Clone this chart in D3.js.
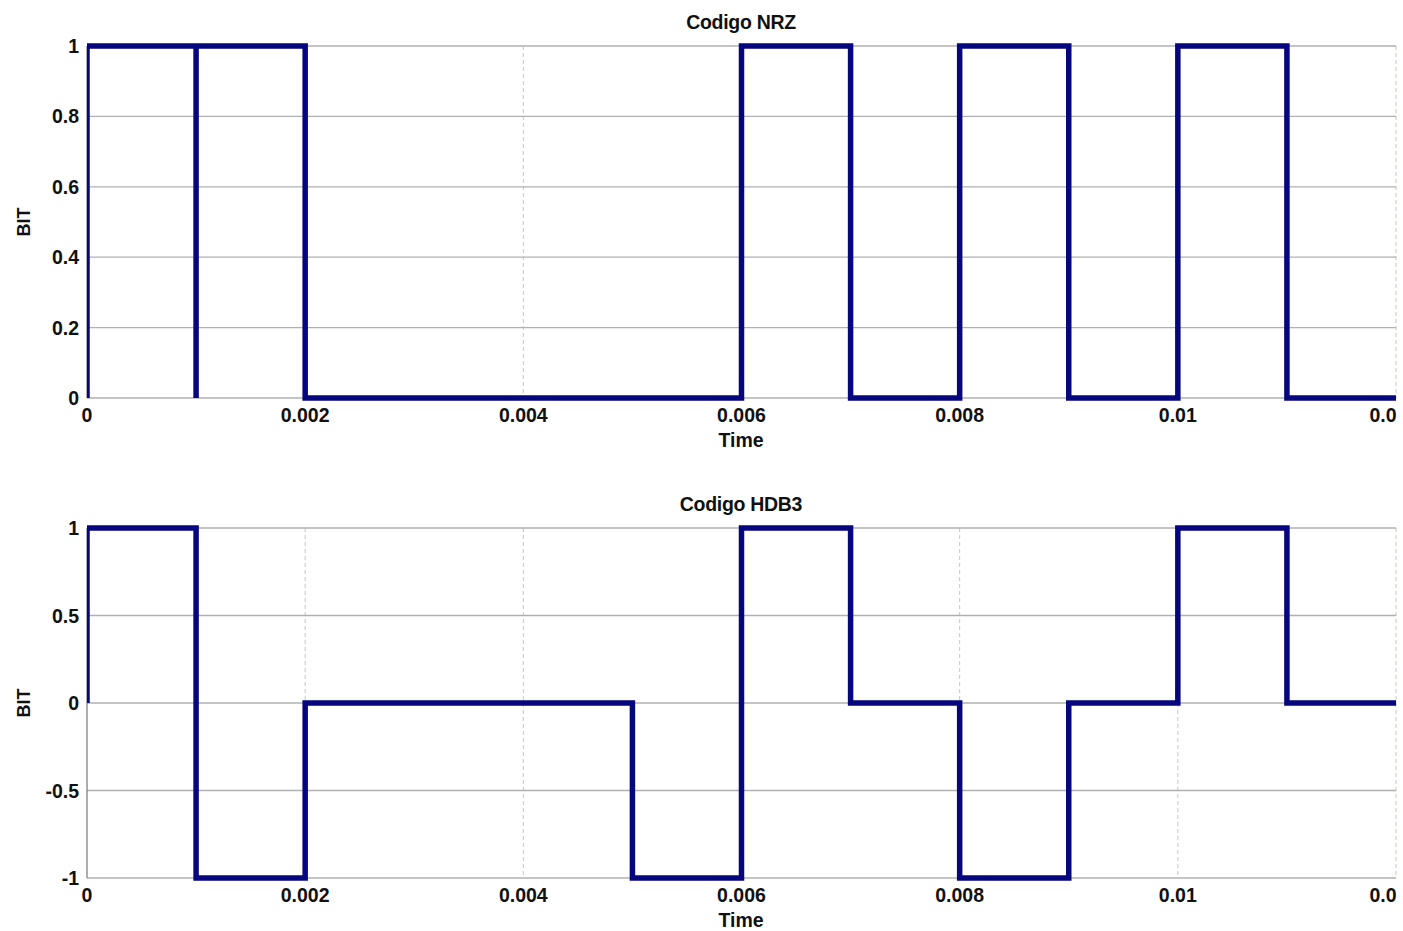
<!DOCTYPE html>
<html><head><meta charset="utf-8">
<script src="https://cdn.jsdelivr.net/npm/d3@7"></script>
<style>
body{margin:0;background:#fff;}
text{font-family:"Liberation Sans",Arial,sans-serif;font-weight:bold;fill:#111;}
</style></head>
<body><svg id="c" width="1403" height="931"></svg>
<script>
const xTicks = [0, 0.002, 0.004, 0.006, 0.008, 0.01, 0.012];
const xTickLabels = ["0", "0.002", "0.004", "0.006", "0.008", "0.01", "0.0"];
const nrzTime = [0, 0, 0.001, 0.001, 0.001, 0.002, 0.002, 0.006, 0.006, 0.007, 0.007, 0.008, 0.008, 0.009, 0.009, 0.01, 0.01, 0.011, 0.011, 0.012];
const nrzValues = [0, 1, 1, 0, 1, 1, 0, 0, 1, 1, 0, 0, 1, 1, 0, 0, 1, 1, 0, 0];
const hdb3Time = [0, 0, 0.001, 0.001, 0.002, 0.002, 0.005, 0.005, 0.006, 0.006, 0.007, 0.007, 0.008, 0.008, 0.009, 0.009, 0.01, 0.01, 0.011, 0.011, 0.012];
const hdb3Values = [0, 1, 1, -1, -1, 0, 0, -1, -1, 1, 1, 0, 0, -1, -1, 0, 0, 1, 1, 0, 0];
const nrzYTicks = [0, 0.2, 0.4, 0.6, 0.8, 1];
const nrzYLabels = ["0", "0.2", "0.4", "0.6", "0.8", "1"];
const hdb3YTicks = [-1, -0.5, 0, 0.5, 1];
const hdb3YLabels = ["-1", "-0.5", "0", "0.5", "1"];

const svg = d3.select("#c");
const lineColor = "#06067e";

function panel(cfg){
  const g = svg.append("g");
  const x = d3.scaleLinear().domain([0, 0.012]).range([87, 1396]);
  const y = d3.scaleLinear().domain(cfg.ydom).range([cfg.bottom, cfg.top]);
  const id = "clip" + cfg.id;
  svg.append("clipPath").attr("id", id).append("rect")
    .attr("x", 87).attr("y", cfg.top - 4).attr("width", 1396 - 87 + 2).attr("height", cfg.bottom - cfg.top + 8);
  // vertical grid (faint, dashed)
  g.selectAll(".vg").data(xTicks.slice(1)).enter().append("line")
    .attr("x1", d => x(d)).attr("x2", d => x(d)).attr("y1", cfg.top).attr("y2", cfg.bottom)
    .attr("stroke", "#c4c4d0").attr("stroke-width", 1).attr("stroke-dasharray", "4,3");
  // horizontal grid
  g.selectAll(".hg").data(cfg.yticks).enter().append("line")
    .attr("x1", 87).attr("x2", 1396).attr("y1", d => y(d)).attr("y2", d => y(d))
    .attr("stroke", "#b0b0b0").attr("stroke-width", 1.3);
  // left axis line
  g.append("line").attr("x1", 87).attr("x2", 87).attr("y1", cfg.top).attr("y2", cfg.bottom)
    .attr("stroke", "#777").attr("stroke-width", 1.2);
  // y tick labels
  g.selectAll(".yl").data(cfg.yticks).enter().append("text")
    .attr("x", 79).attr("y", d => y(d) + 7).attr("text-anchor", "end")
    .attr("font-size", 19.5).text((d, i) => cfg.ylabels[i]);
  // x tick labels
  g.selectAll(".xl").data(xTicks).enter().append("text")
    .attr("x", (d, i) => i === xTicks.length - 1 ? 1383 : x(d)).attr("y", cfg.bottom + 24).attr("text-anchor", "middle")
    .attr("font-size", 19.5).text((d, i) => xTickLabels[i]);
  // title, axis labels
  g.append("text").attr("x", 741).attr("y", cfg.top - 17).attr("text-anchor", "middle")
    .attr("font-size", 19.5).attr("letter-spacing", "-0.3").text(cfg.title);
  g.append("text").attr("x", 741).attr("y", cfg.bottom + 49).attr("text-anchor", "middle")
    .attr("font-size", 19.5).text("Time");
  g.append("text").attr("transform", `translate(30,${(cfg.top + cfg.bottom) / 2}) rotate(-90)`)
    .attr("text-anchor", "middle").attr("font-size", 18).text("BIT");
  // data line
  const pts = cfg.t.map((t, i) => [t, cfg.v[i]]);
  g.append("path").attr("clip-path", `url(#${id})`)
    .attr("d", d3.line().x(d => x(d[0])).y(d => y(d[1]))(pts))
    .attr("fill", "none").attr("stroke", lineColor).attr("stroke-width", 5.5)
    .attr("stroke-linejoin", "miter");
}

panel({id: 1, title: "Codigo NRZ", top: 46, bottom: 398, ydom: [0, 1], yticks: nrzYTicks, ylabels: nrzYLabels, t: nrzTime, v: nrzValues});
panel({id: 2, title: "Codigo HDB3", top: 528, bottom: 878, ydom: [-1, 1], yticks: hdb3YTicks, ylabels: hdb3YLabels, t: hdb3Time, v: hdb3Values});
</script></body></html>
